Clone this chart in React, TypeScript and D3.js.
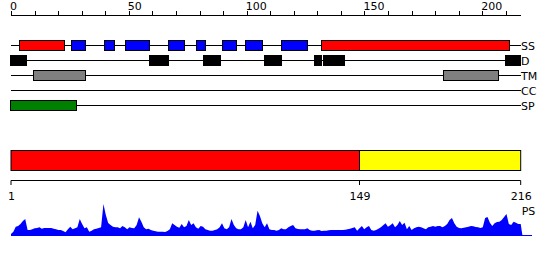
import React from "react";
import * as d3 from "d3";

const LENGTH = 216;
const topTicks = d3.range(0, 211, 10);
const topLabels = [0, 50, 100, 150, 200];
const rowNames = ["SS", "D", "TM", "CC", "SP"];

// [start, end] in residues, per row
const ssRed: [number, number][] = [[4, 22], [132, 211]];
const ssBlue: [number, number][] = [[26, 31], [40, 43], [49, 58], [67, 73], [79, 82], [90, 95], [100, 106], [115, 125]];
const domains: [number, number][] = [[0, 6], [59, 66], [82, 88], [108, 114], [129, 131], [133, 141], [210, 216]];
const tmSegs: [number, number][] = [[10, 31], [184, 206]];
const ccSegs: [number, number][] = [];
const spSegs: [number, number][] = [[0, 27]];

const bottomTicks = [1, 149, 216];
const regionBreak = 149;

// PS profile, per residue 1..216
const psValues = [
  1, 3.3, 8.3, 9, 11, 14, 16, 5, 5, 5.7,
  6.7, 7, 7.7, 6.3, 7, 7, 7, 7, 6.3, 5.7,
  5, 5, 4, 2.7, 5.7, 8.3, 5.7, 6.7, 7.7, 16,
  11, 6.7, 7.7, 3.3, 4.3, 5.7, 6.3, 7, 7.7, 31,
  20, 12, 10, 8.3, 7.7, 7.7, 6.7, 9, 7.7, 5.7,
  7.7, 7, 6.7, 10, 17.7, 13.3, 7.7, 5.7, 6.3, 5,
  4.3, 3.7, 3.3, 3.3, 3.3, 3, 4, 5.7, 11.7, 10,
  8.3, 7.3, 11, 7.7, 9, 15, 10, 11.7, 7.7, 6.3,
  9, 8.3, 5.7, 5, 4.3, 4.3, 5, 5.7, 7.7, 11.7,
  6.7, 5.7, 7.7, 16, 10, 6.7, 5.7, 5.7, 7.7, 15,
  7.7, 13.3, 6.7, 10, 24.3, 19, 11.7, 7.7, 11.7, 5.7,
  5, 5, 4.3, 5, 6.7, 5.7, 5.7, 7.7, 9, 10,
  6.7, 6, 5.7, 5.7, 5.7, 6.7, 5, 4.3, 4.3, 4.7,
  5, 4, 4.3, 4.3, 4.7, 5, 5, 5, 5, 5,
  5, 5.3, 5.7, 6.3, 7, 7.7, 4.3, 6.7, 9, 5.7,
  7.7, 9, 5, 4.3, 5, 6.3, 7.7, 9.7, 11.7, 8.3,
  9.7, 11.7, 7.7, 10, 14, 10, 12.3, 5.7, 9, 5,
  6.7, 7.7, 8.3, 7.7, 6.7, 5.7, 7.7, 8.3, 9, 8.3,
  9, 9, 7.7, 9, 11, 15, 17, 11.7, 8.3, 7,
  6.7, 7.3, 7.7, 8.3, 9, 8.7, 8, 7.7, 7, 7.7,
  17, 18, 12.3, 9, 11.7, 13, 13.3, 15, 18, 21,
  11, 10, 13.3, 12.3, 11, 11,
];

const W = 550;
const H = 260;
const FONT = "'DejaVu Sans', sans-serif";

export default function App() {
  const x = d3.scaleLinear().domain([0, LENGTH]).range([11, 520]);
  const xr = d3.scaleLinear().domain([1, LENGTH]).range([11, 520.7]);
  const xb = d3.scaleLinear().domain([1, regionBreak, LENGTH]).range([11, 359.5, 520.7]);
  const y = d3.scaleLinear().domain([0, 32]).range([235, 203]);
  const rowY = (i: number) => 45.5 + i * 15;

  const rows: { segs: [number, number][]; fill: string }[][] = [
    [{ segs: ssRed, fill: "#ff0000" }, { segs: ssBlue, fill: "#0000ff" }],
    [{ segs: domains, fill: "#000000" }],
    [{ segs: tmSegs, fill: "#808080" }],
    [{ segs: ccSegs, fill: "#ffd700" }],
    [{ segs: spSegs, fill: "#008000" }],
  ];

  const pts: [number, number][] = psValues.map((v, i) => [i + 1, v]);
  const area = d3
    .area<[number, number]>()
    .x((d) => xr(d[0]))
    .y0(235)
    .y1((d) => y(d[1]));
  const areaPath = area([[1, 0], ...pts, [LENGTH + 0.7, 0]]) || "";

  return (
    <svg width={W} height={H} style={{ display: "block", position: "absolute", left: 0, top: 0 }} fontFamily={FONT}>
      <rect width={W} height={H} fill="#fff" />
      {/* top axis */}
      <line x1={x(0)} x2={x(LENGTH) + 1} y1={15.5} y2={15.5} stroke="#000" />
      {topTicks.map((t) => (
        <line key={t} x1={Math.round(x(t)) + 0.5} x2={Math.round(x(t)) + 0.5} y1={11} y2={15} stroke="#000" />
      ))}
      {topLabels.map((t) => (
        <text key={t} x={x(t) - 1} y={10} fontSize={11} fill="#000">
          {t}
        </text>
      ))}
      {/* rows */}
      {rowNames.map((name, i) => (
        <g key={name}>
          <line x1={x(0)} x2={x(LENGTH) + 1} y1={rowY(i)} y2={rowY(i)} stroke="#000" />
          {rows[i].map((grp) =>
            grp.segs.map(([s, e]) => {
              const x0 = Math.round(x(s - 0.5)) + 0.5;
              const x1 = Math.min(Math.round(x(e + 0.5)) + 0.5, x(LENGTH) + 0.5);
              return (
                <rect
                  key={`${grp.fill}-${s}`}
                  x={x0}
                  y={rowY(i) - 5}
                  width={x1 - x0}
                  height={10}
                  fill={grp.fill}
                  stroke="#000"
                />
              );
            })
          )}
          <text x={x(LENGTH) + 1} y={rowY(i) + 4} fontSize={11} fill="#000">
            {name}
          </text>
        </g>
      ))}
      {/* region bar */}
      <rect x={xb(1)} y={150.5} width={xb(regionBreak) - xb(1)} height={20} fill="#ff0000" stroke="#000" />
      <rect x={xb(regionBreak)} y={150.5} width={xb(LENGTH) - xb(regionBreak)} height={20} fill="#ffff00" stroke="#000" />
      {/* bottom axis */}
      <line x1={xb(1)} x2={xb(LENGTH)} y1={180.5} y2={180.5} stroke="#000" />
      {bottomTicks.map((t) => (
        <g key={t}>
          <line x1={xb(t)} x2={xb(t)} y1={180.5} y2={185} stroke="#000" />
          <text x={xb(t) + 0.5} y={200} fontSize={11} textAnchor="middle" fill="#000">
            {t}
          </text>
        </g>
      ))}
      {/* PS profile */}
      <text x={xr(LENGTH) + 1} y={215} fontSize={11} fill="#000">
        PS
      </text>
      <path d={areaPath} fill="#0000ff" stroke="none" />
      <line x1={xr(1)} x2={532} y1={235.5} y2={235.5} stroke="#0000ff" />
    </svg>
  );
}
